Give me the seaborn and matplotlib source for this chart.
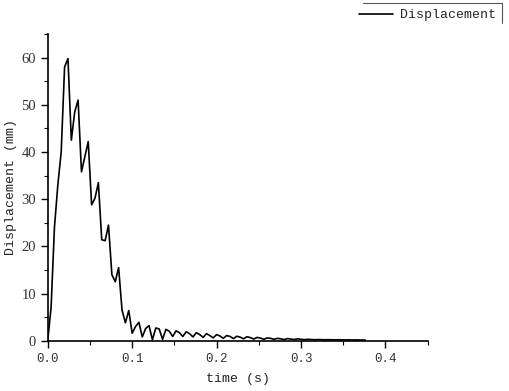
import numpy as np
import pandas as pd
import matplotlib
matplotlib.use("Agg")
import matplotlib.pyplot as plt
from matplotlib.ticker import MultipleLocator
from matplotlib.lines import Line2D
import seaborn as sns

# sampling step of the recorded signal (s)
dt = 0.004
displacement = [
    0.0, 7.0, 24.0, 33.0, 40.0, 58.0, 59.8, 42.5, 48.5, 51.0,
    35.8, 39.0, 42.2, 28.8, 30.2, 33.5, 21.4, 21.2, 24.5, 14.0,
    12.5, 15.5, 6.5, 3.8, 6.4, 1.6, 3.0, 3.9, 0.8, 2.6,
    3.2, 0.2, 2.7, 2.5, 0.3, 2.4, 2.0, 0.9, 2.1, 1.7,
    0.9, 1.9, 1.5, 0.8, 1.7, 1.3, 0.7, 1.5, 1.1, 0.6,
    1.3, 1.0, 0.5, 1.1, 0.9, 0.45, 0.95, 0.75, 0.4, 0.85,
    0.65, 0.35, 0.7, 0.55, 0.3, 0.6, 0.5, 0.3, 0.5, 0.4,
    0.25, 0.45, 0.35, 0.25, 0.4, 0.3, 0.22, 0.3, 0.25, 0.2,
    0.25, 0.22, 0.2, 0.22, 0.2, 0.18, 0.2, 0.18, 0.17, 0.18,
    0.16, 0.17, 0.16, 0.15, 0.15,
]
time = [round(i * dt, 3) for i in range(len(displacement))]
x_ticks = [0.0, 0.1, 0.2, 0.3, 0.4]
y_ticks = [0, 10, 20, 30, 40, 50, 60]

df = pd.DataFrame({"time": time, "Displacement": displacement})

sns.set_style("ticks")
plt.rcParams["font.family"] = ["Liberation Mono", "DejaVu Sans"]

fig = plt.figure(figsize=(5.09, 3.91), dpi=100)
ax = fig.add_axes([0.0937, 0.1286, 0.7466, 0.7844])

sns.lineplot(data=df, x="time", y="Displacement", ax=ax, color="black",
             linewidth=1.2, legend=False)

ax.set_xlim(0, 0.45)
ax.set_ylim(0, 65)
ax.set_xticks(x_ticks)
ax.set_xticklabels([f"{v:.1f}" for v in x_ticks], fontsize=9,
                   family=["Liberation Mono"], color="#333333")
ax.set_yticks(y_ticks)
ax.set_yticklabels([str(v) for v in y_ticks], fontsize=10.5,
                   family=["Liberation Serif"], color="#333333")
ax.xaxis.set_minor_locator(MultipleLocator(0.05))
ax.yaxis.set_minor_locator(MultipleLocator(5))
ax.tick_params(which="major", direction="out", length=5, width=1, color="black")
ax.tick_params(which="minor", direction="out", length=3, width=0.8, color="black")
for s in ["top", "right"]:
    ax.spines[s].set_visible(False)
for s in ["left", "bottom"]:
    ax.spines[s].set_linewidth(1.2)
    ax.spines[s].set_color("black")

ax.set_xlabel("time (s)", fontsize=9.5, color="#222222", labelpad=6)
ax.set_ylabel("Displacement (mm)", fontsize=9.5, color="#222222", labelpad=3)

handle = Line2D([], [], color="black", linewidth=1.2)
fig.legend([handle], ["Displacement"], loc="upper right",
           bbox_to_anchor=(0.992, 1.0), frameon=False, fontsize=9.5,
           handlelength=2.6, handletextpad=0.5, borderaxespad=0.3)
# partial frame of the legend box (top and right edges)
fig.add_artist(Line2D([0.713, 0.987], [0.992, 0.992], transform=fig.transFigure,
                      color="#555555", linewidth=0.8))
fig.add_artist(Line2D([0.987, 0.987], [0.992, 0.94], transform=fig.transFigure,
                      color="#555555", linewidth=0.8))

fig.savefig("out.png", dpi=100, facecolor="white")
